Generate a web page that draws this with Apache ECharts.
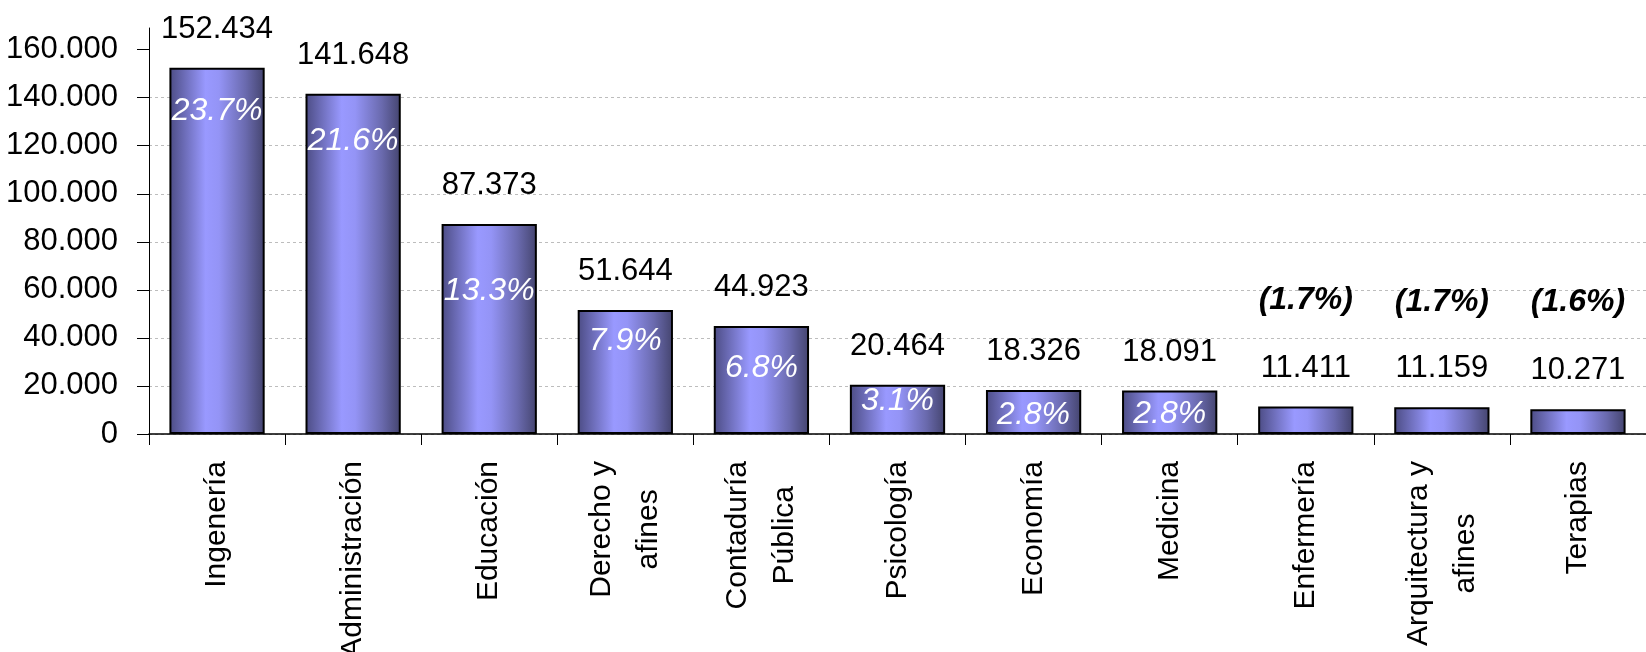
<!DOCTYPE html>
<html>
<head>
<meta charset="utf-8">
<script src="https://cdn.jsdelivr.net/npm/echarts@6/dist/echarts.min.js"></script>
<style>
html,body{margin:0;padding:0;background:#fff;}
#chart{width:1646px;height:652px;}
</style>
</head>
<body>
<div id="chart"></div>
<script>
// ---- data ----
const categories = ['Ingenería', 'Administración', 'Educación', 'Derecho y\nafines', 'Contaduría\nPública',
  'Psicología', 'Economía', 'Medicina', 'Enfermería', 'Arquitectura y\nafines', 'Terapias'];
const students = [152434, 141648, 87373, 51644, 44923, 20464, 18326, 18091, 11411, 11159, 10271];
const shares = ['23.7%', '21.6%', '13.3%', '7.9%', '6.8%', '3.1%', '2.8%', '2.8%', '(1.7%)', '(1.7%)', '(1.6%)'];
const yTicks = [0, 20000, 40000, 60000, 80000, 100000, 120000, 140000, 160000];

// ---- layout (label placement relative to each bar top, px; negative = above bar) ----
const shareLabelDrop = [43, 47, 67, 31, 42, 16, 25, 24, -106, -105, -107];

const FONT = "'Liberation Sans', Arial, sans-serif";
const fmt = v => String(v).replace(/\B(?=(\d{3})+(?!\d))/g, '.');

const barGradient = {
  type: 'linear', x: 0, y: 0, x2: 1, y2: 0,
  colorStops: [
    {offset: 0, color: '#4c4c84'},
    {offset: 0.38, color: '#9999ff'},
    {offset: 0.52, color: '#9494f6'},
    {offset: 0.8, color: '#6a6aae'},
    {offset: 1, color: '#44446e'}
  ]
};

const chart = echarts.init(document.getElementById('chart'));
chart.setOption({
  animation: false,
  backgroundColor: '#ffffff',
  grid: {left: 149, right: 0, top: 28, bottom: 218, containLabel: false, outerBoundsMode: 'none'},
  xAxis: {
    type: 'category',
    data: categories,
    boundaryGap: true,
    axisLine: {lineStyle: {color: '#000', width: 1.5}},
    axisTick: {show: true, length: 11, lineStyle: {color: '#000', width: 1}},
    axisLabel: {
      rotate: 90,
      margin: 27,
      interval: 0,
      color: '#000',
      fontFamily: FONT,
      fontSize: 30,
      lineHeight: 47,
      formatter: v => v.split('\n').map(s => '{c|' + s + '}').join('\n'),
      rich: {c: {align: 'center', fontFamily: FONT, fontSize: 30, lineHeight: 47, color: '#000'}}
    }
  },
  yAxis: {
    type: 'value',
    min: 0,
    max: 169000,
    interval: 20000,
    axisLine: {show: true, lineStyle: {color: '#000', width: 1}},
    axisTick: {show: true, length: 12, inside: false, customValues: yTicks, lineStyle: {color: '#000'}},
    axisLabel: {
      customValues: yTicks,
      margin: 31,
      color: '#000',
      fontFamily: FONT,
      fontSize: 31,
      formatter: v => fmt(v)
    },
    splitLine: {show: true, showMaxLine: false, lineStyle: {color: '#bdbdbd', type: [3, 3], width: 1}}
  },
  series: [
    {
      type: 'bar',
      data: students,
      barWidth: '70%',
      itemStyle: {color: barGradient, borderColor: '#000', borderWidth: 2},
      label: {
        show: true,
        position: 'top',
        distance: 23,
        color: '#000',
        fontFamily: FONT,
        fontSize: 31,
        formatter: p => fmt(p.value)
      },
      z: 2
    },
    {
      type: 'bar',
      data: students.map((v, i) => {
        const above = shareLabelDrop[i] < 0;
        return {
          value: v,
          label: {
            offset: [0, shareLabelDrop[i]],
            color: above ? '#000' : '#fff',
            fontWeight: above ? 'bold' : 'normal'
          }
        };
      }),
      barWidth: '70%',
      barGap: '-100%',
      silent: true,
      itemStyle: {color: 'rgba(0,0,0,0)', borderWidth: 0},
      label: {
        show: true,
        position: ['50%', 0],
        align: 'center',
        verticalAlign: 'middle',
        fontFamily: FONT,
        fontStyle: 'italic',
        fontSize: 32,
        formatter: p => shares[p.dataIndex]
      },
      z: 3
    }
  ]
});
</script>
</body>
</html>
